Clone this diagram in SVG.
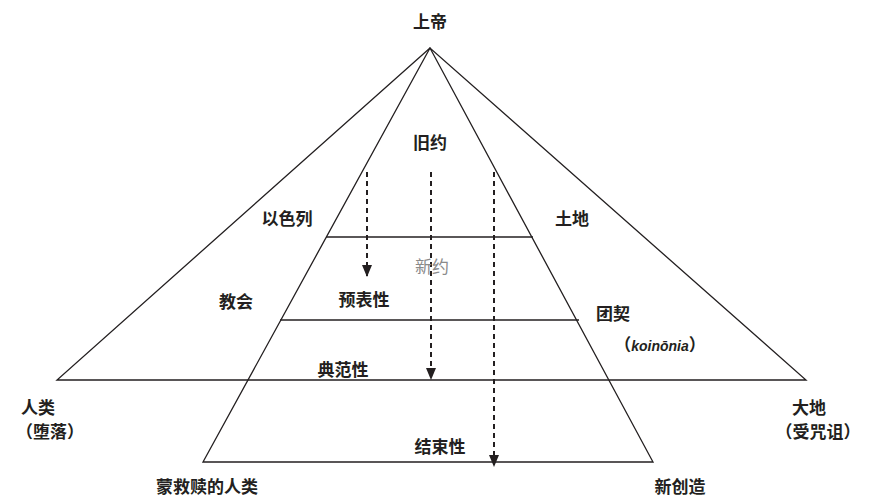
<svg xmlns="http://www.w3.org/2000/svg" width="870" height="502" viewBox="0 0 870 502">
<defs>
<style>
.t{font-family:"Noto Sans CJK SC","Noto Sans",sans-serif;font-size:17px;font-weight:700;fill:#231f20;text-anchor:middle}
.g{font-family:"Noto Sans CJK SC","Noto Sans",sans-serif;font-size:17px;font-weight:400;fill:#8a8a8a;text-anchor:middle}
.l{stroke:#231f20;stroke-width:1.3;fill:none}
.d{stroke:#231f20;stroke-width:2;stroke-dasharray:5 4;fill:none}
</style>
<marker id="ah" viewBox="0 0 12 10" refX="11" refY="5" markerWidth="12" markerHeight="10" markerUnits="userSpaceOnUse" orient="auto">
<path d="M0,0 L12,5 L0,10 Z" fill="#231f20"/>
</marker>
</defs>
<rect width="870" height="502" fill="#fff"/>
<g id="connectors">
<path class="l" d="M430,48 L57,380 L806,380 Z"/>
<path class="l" d="M430,48 L203,462 L653,462 Z"/>
<line class="l" x1="326" y1="237" x2="533" y2="237"/>
<line class="l" x1="280" y1="320" x2="579" y2="320"/>
<line class="d" x1="367" y1="172" x2="367" y2="276" marker-end="url(#ah)"/>
<line class="d" x1="431" y1="172" x2="431" y2="379" marker-end="url(#ah)"/>
<line class="d" x1="494" y1="172" x2="494" y2="466" marker-end="url(#ah)"/>
</g>
<g id="god"><text class="t" x="430" y="28">上帝</text></g>
<g id="ot"><text class="t" x="430" y="149">旧约</text></g>
<g id="israel"><text class="t" x="287" y="225">以色列</text></g>
<g id="land"><text class="t" x="572" y="225">土地</text></g>
<g id="nt"><text class="g" x="432" y="273">新约</text></g>
<g id="church"><text class="t" x="236" y="308">教会</text></g>
<g id="typological"><text class="t" x="364" y="306">预表性</text></g>
<g id="fellowship"><text class="t" x="613" y="320">团契</text>
<text class="t" x="660" y="351">（<tspan font-style="italic" font-family="Liberation Sans, sans-serif" font-size="14">koinōnia</tspan>）</text></g>
<g id="paradigmatic"><text class="t" x="343" y="376">典范性</text></g>
<g id="humanity"><text class="t" x="38" y="414">人类</text><text class="t" x="50" y="438">（堕落）</text></g>
<g id="earth"><text class="t" x="809" y="414">大地</text><text class="t" x="818" y="438">（受咒诅）</text></g>
<g id="eschatological"><text class="t" x="440" y="453">结束性</text></g>
<g id="redeemed"><text class="t" x="207" y="493">蒙救赎的人类</text></g>
<g id="newcreation"><text class="t" x="680" y="493">新创造</text></g>
</svg>
